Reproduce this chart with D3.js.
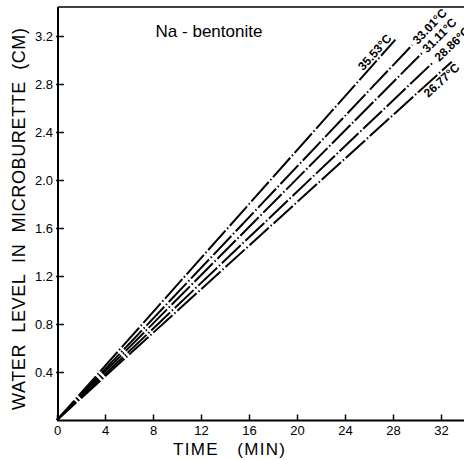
<!DOCTYPE html>
<html><head><meta charset="utf-8">
<script src="https://cdn.jsdelivr.net/npm/d3@7"></script>
<style>body{margin:0;background:#fff}svg{display:block}</style>
</head><body>
<script>
// ---- data ----
const seriesLabels = ["35.53°C","33.01°C","31.11°C","28.86°C","26.77°C"];
const startTime  = [0, 0, 0, 0, 0];
const startLevel = [0, 0, 0, 0, 0];
const endTime    = [28.2, 29.6, 30.4, 31.4, 32.9];
const endLevel   = [3.17, 3.125, 3.056, 2.986, 2.986];
const labelTime  = [25.6, 29.7, 30.5, 31.5, 30.2];
const labelSide  = ["above","end","end","end","below"];
const xTicks = [0,4,8,12,16,20,24,28,32];
const yTicks = [0.4,0.8,1.2,1.6,2.0,2.4,2.8,3.2];
const yTickText = ["0.4","0.8","1.2","1.6","2.0","2.4","2.8","3.2"];
const title = "Na - bentonite";
const xTitle = "TIME   (MIN)";
const yTitle = "WATER  LEVEL  IN  MICROBURETTE  (CM)";

const W = 464, H = 460;
const svg = d3.select("body").append("svg").attr("width", W).attr("height", H);
const x = d3.scaleLinear().domain([0, 32]).range([57, 441]);
const y = d3.scaleLinear().domain([0, 3.2]).range([420, 36]);
const font = "'Liberation Sans', Arial, sans-serif";

// frame: left axis, bottom axis, top line
svg.append("line").attr("x1", 58).attr("x2", 58).attr("y1", 7).attr("y2", 421)
  .attr("stroke", "#000").attr("stroke-width", 2);
svg.append("line").attr("x1", 57).attr("x2", W).attr("y1", 420.5).attr("y2", 420.5)
  .attr("stroke", "#000").attr("stroke-width", 2);
svg.append("line").attr("x1", 58).attr("x2", W).attr("y1", 7).attr("y2", 7)
  .attr("stroke", "#000").attr("stroke-width", 1.5);

// x axis
const xa = svg.append("g").attr("transform", "translate(0,420.5)")
  .call(d3.axisBottom(x).tickValues(xTicks).tickSizeInner(-6).tickSizeOuter(0).tickPadding(5));
xa.select(".domain").remove();
xa.selectAll("line").attr("stroke-width", 1.5);
xa.selectAll("text").attr("font-family", font).attr("font-size", 13).attr("fill", "#000");

// y axis
const ya = svg.append("g").attr("transform", "translate(58,0)")
  .call(d3.axisLeft(y).tickValues(yTicks).tickFormat((d, i) => yTickText[i])
    .tickSizeInner(-6).tickSizeOuter(0).tickPadding(5));
ya.select(".domain").remove();
ya.selectAll(".tick line").attr("x1", -2).attr("x2", 6).attr("stroke-width", 1.5);
ya.selectAll("text").attr("font-family", font).attr("font-size", 13).attr("fill", "#000");

// series lines
const lineGen = d3.line().x(d => x(d[0])).y(d => y(d[1]));
seriesLabels.forEach((lab, i) => {
  const pts = [[startTime[i], startLevel[i]], [endTime[i], endLevel[i]]];
  svg.append("path").attr("d", lineGen(pts)).attr("fill", "none")
    .attr("stroke", "#000").attr("stroke-width", 2)
    .attr("stroke-dasharray", "26,2.5,1.5,2.5");
  const rate = endLevel[i] / endTime[i];
  const lt = labelTime[i];
  const px = x(lt), py = y(rate * lt);
  const ang = Math.atan2(y(0) - y(rate * 10), x(10) - x(0)) * 180 / Math.PI;
  let dy = -3;
  if (labelSide[i] === "below") dy = 11;
  if (labelSide[i] === "end") dy = 4;
  svg.append("text").attr("transform", `translate(${px},${py}) rotate(${-ang})`)
    .attr("x", 2).attr("y", dy).attr("font-family", font).attr("font-size", 12)
    .attr("font-weight", "bold").attr("fill", "#000").text(lab);
});

// title
svg.append("text").attr("x", 209).attr("y", 37).attr("text-anchor", "middle")
  .attr("font-family", font).attr("font-size", 17).attr("fill", "#000").text(title);

// axis titles
svg.append("text").attr("x", 173).attr("y", 455).attr("font-family", font)
  .attr("font-size", 17).attr("fill", "#000").attr("textLength", 112)
  .attr("lengthAdjust", "spacing").style("white-space", "pre").text(xTitle);
svg.append("text").attr("transform", "translate(25,410) rotate(-90)")
  .attr("font-family", font).attr("font-size", 18).attr("fill", "#000")
  .attr("textLength", 382).attr("lengthAdjust", "spacing")
  .style("white-space", "pre").text(yTitle);
</script>
</body></html>
